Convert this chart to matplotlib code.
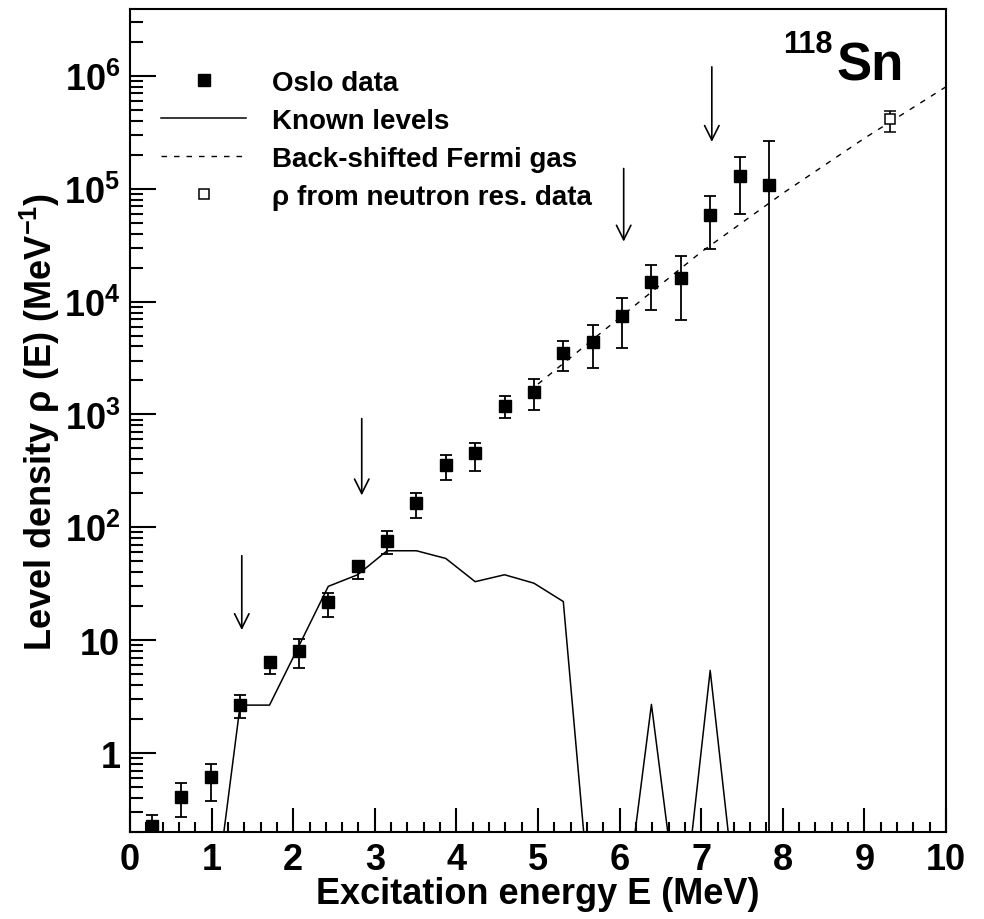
import numpy as np
import matplotlib
matplotlib.use("Agg")
import matplotlib.pyplot as plt
from matplotlib.ticker import MultipleLocator, FixedLocator, FuncFormatter, NullFormatter
from matplotlib.lines import Line2D

plt.rcParams['font.family'] = ['Liberation Sans', 'DejaVu Sans']
plt.rcParams['font.weight'] = 'bold'
plt.rcParams['mathtext.fontset'] = 'custom'
plt.rcParams['mathtext.rm'] = 'Liberation Sans'
plt.rcParams['mathtext.bf'] = 'Liberation Sans:bold'
plt.rcParams['mathtext.it'] = 'Liberation Sans:italic'

# Oslo data (bin centres, values, lower / upper ends of error bars)
E_oslo = [0.27, 0.63, 0.99, 1.35, 1.71, 2.07, 2.43, 2.79, 3.15, 3.51, 3.87,
          4.23, 4.59, 4.95, 5.31, 5.67, 6.03, 6.39, 6.75, 7.11, 7.47, 7.83]
rho_oslo = [0.226, 0.41, 0.61, 2.66, 6.4, 8.0, 21.7, 45, 75, 163, 355,
            460, 1200, 1590, 3470, 4340, 7500, 15000, 16300, 59000, 130000, 107000]
rho_lo = [0.18, 0.27, 0.376, 2.04, 5.0, 5.65, 16, 34.6, 57.6, 122, 263,
          316, 930, 1090, 2450, 2570, 3870, 8500, 6800, 29000, 60000, 0]
rho_hi = [0.28, 0.54, 0.80, 3.26, 6.9, 10.2, 26, 50, 92, 200, 437,
          562, 1470, 2050, 4450, 6150, 10700, 21000, 25600, 87000, 192000, 263000]

# known discrete levels (same bins, zero where no levels)
rho_known = [0, 0, 0, 2.66, 2.66, 8.9, 30, 38, 62, 62, 53,
             33, 38, 32, 22, 0, 0, 2.7, 0, 5.4, 0, 0]
known_floor = 0.025

# back-shifted Fermi gas
E_bsfg = [5.0, 6.0, 7.0, 8.0, 9.0, 10.0]
rho_bsfg = [1860, 7200, 27500, 91000, 280000, 800000]

# rho from neutron resonance data
E_nres = [9.31]
rho_nres = [417000]
nres_lo = [316000]
nres_hi = [490000]

# arrows
arrow_E = [1.37, 2.84, 6.05, 7.13]
arrow_top = [56, 920, 151000, 1.2e6]
arrow_tip = [12.3, 192, 34000, 2.6e5]

fig = plt.figure(figsize=(9.84, 9.2), dpi=100)
ax = fig.add_axes([0.1321, 0.0946, 0.8293, 0.8944])
ax.set_yscale('log')
ax.set_xlim(0, 10)
ax.set_ylim(0.2, 3.9e6)

known_plot = [v if v > 0 else known_floor for v in rho_known]
ax.plot(E_oslo, known_plot, color='black', lw=1.1, zorder=2)
ax.plot(E_bsfg, rho_bsfg, color='black', lw=1.0, dashes=(4, 5), zorder=2)

y = np.array(rho_oslo)
yerr = [y - np.array(rho_lo), np.array(rho_hi) - y]
ax.errorbar(E_oslo, rho_oslo, yerr=yerr, fmt='s', color='black', ms=8,
            elinewidth=1.3, capsize=4, capthick=1.3, zorder=3)

yn = np.array(rho_nres)
ax.errorbar(E_nres, rho_nres, yerr=[yn - np.array(nres_lo), np.array(nres_hi) - yn],
            fmt='s', mfc='white', mec='black', color='black', ms=7.5, mew=1.1,
            elinewidth=1.2, capsize=4, capthick=1.2, zorder=3)

for e, t0, t1 in zip(arrow_E, arrow_top, arrow_tip):
    ax.annotate('', xy=(e, t1), xytext=(e, t0),
                arrowprops=dict(arrowstyle='->', lw=1.2, color='black',
                                mutation_scale=26, shrinkA=0, shrinkB=0))

# axes styling
for s in ax.spines.values():
    s.set_linewidth(1.5)
ax.xaxis.set_major_locator(MultipleLocator(1))
ax.xaxis.set_minor_locator(MultipleLocator(0.2))
decades = [10.0 ** n for n in range(0, 7)]
minors = [m * 10.0 ** n for n in range(-1, 7) for m in range(2, 10)
          if 0.2 <= m * 10.0 ** n <= 3.9e6]
ax.yaxis.set_major_locator(FixedLocator(decades))
ax.yaxis.set_minor_locator(FixedLocator(minors))
ax.yaxis.set_minor_formatter(NullFormatter())


def ylab(v, pos):
    n = int(round(np.log10(v)))
    if n == 0:
        return '1'
    if n == 1:
        return '10'
    return r'$\mathbf{10^{%d}}$' % n


ax.yaxis.set_major_formatter(FuncFormatter(ylab))
ax.tick_params(axis='both', which='both', direction='in', top=False, right=False,
               width=1.5, labelsize=26)
ax.tick_params(axis='x', which='major', length=17, pad=7)
ax.tick_params(axis='x', which='minor', length=7.5)
ax.tick_params(axis='y', which='major', length=19, pad=7)
ax.tick_params(axis='y', which='minor', length=9.5)

ax.set_xlabel('Excitation energy E (MeV)', fontsize=26, fontweight='bold')
ax.xaxis.set_label_coords(0.5, -0.053)
ax.set_ylabel(r'Level density $\mathrm{\rho}$ (E) (MeV$^{\mathbf{-1}}$)',
              fontsize=26, fontweight='bold')
ax.yaxis.set_label_coords(-0.083, 0.5)

ax.text(0.8615, 0.948, '118', transform=ax.transAxes, fontsize=22,
        fontweight='bold', ha='right', va='baseline')
ax.text(0.866, 0.915, 'Sn', transform=ax.transAxes, fontsize=38,
        fontweight='bold', ha='left', va='baseline')

handles = [
    Line2D([], [], ls='none', marker='s', color='black', ms=8),
    Line2D([], [], color='black', lw=1.1),
    Line2D([], [], color='black', lw=1.0, dashes=(4, 5)),
    Line2D([], [], ls='none', marker='s', mfc='white', mec='black', ms=7.5, mew=1.1),
]
labels = ['Oslo data', 'Known levels', 'Back-shifted Fermi gas',
          u'\u03c1 from neutron res. data']
leg = ax.legend(handles, labels, loc='upper left', bbox_to_anchor=(0.025, 0.94),
                frameon=False, fontsize=20, handlelength=3.05, handletextpad=0.94,
                labelspacing=0.435, borderaxespad=0)
for t in leg.get_texts():
    t.set_fontweight('bold')

fig.savefig('out.png', dpi=100, facecolor='white')
